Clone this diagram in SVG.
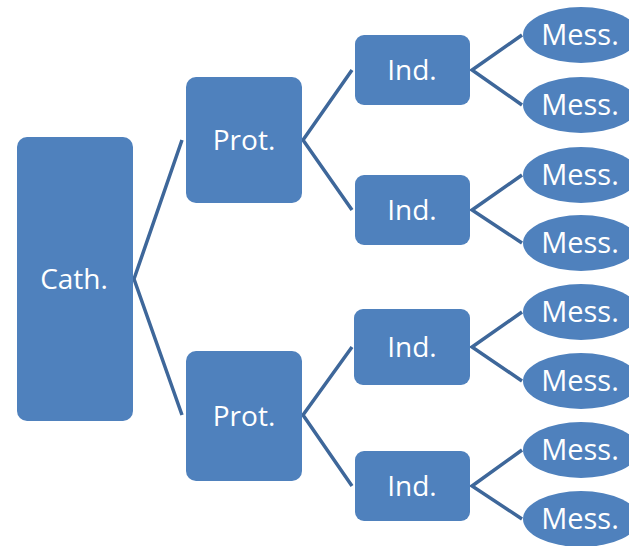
<svg xmlns="http://www.w3.org/2000/svg" width="629" height="546" viewBox="0 0 629 546">
<style>
.n{fill:#4F81BD;}
.t{fill:#FFFFFF;font-family:"Open Sans","Liberation Sans",sans-serif;font-size:28px;text-anchor:middle;}
.m{font-size:29px;}
.c{stroke:#3E679A;stroke-width:3.5;fill:none;stroke-linejoin:miter;}
</style>
<rect width="629" height="546" fill="#FFFFFF"/>
<g id="connectors">
<polyline class="c" points="182,140 134,279 182,415"/>
<polyline class="c" points="352,70 303,140 352,210"/>
<polyline class="c" points="352,347 303,415 352,486"/>
<polyline class="c" points="522,35 472,70 522,105"/>
<polyline class="c" points="522,175 472,210 522,243"/>
<polyline class="c" points="522,312 472,347 522,381"/>
<polyline class="c" points="522,450 472,486 522,519"/>
</g>
<g id="cath"><rect class="n" x="17" y="137" width="116" height="284" rx="10"/><text class="t" x="74" y="289">Cath.</text></g>
<g id="prot1"><rect class="n" x="186" y="77" width="116" height="126" rx="10"/><text class="t" x="244" y="150">Prot.</text></g>
<g id="prot2"><rect class="n" x="186" y="351" width="116" height="130" rx="10"/><text class="t" x="244" y="426">Prot.</text></g>
<g id="ind1"><rect class="n" x="355" y="35" width="115" height="70" rx="9"/><text class="t" x="412" y="80">Ind.</text></g>
<g id="ind2"><rect class="n" x="355" y="175" width="115" height="70" rx="9"/><text class="t" x="412" y="220">Ind.</text></g>
<g id="ind3"><rect class="n" x="354" y="309" width="116" height="76" rx="9"/><text class="t" x="412" y="357">Ind.</text></g>
<g id="ind4"><rect class="n" x="355" y="451" width="115" height="70" rx="9"/><text class="t" x="412" y="496">Ind.</text></g>
<g id="mess1"><ellipse class="n" cx="581" cy="35" rx="58" ry="28"/><text class="t m" x="580" y="45">Mess.</text></g>
<g id="mess2"><ellipse class="n" cx="581" cy="105" rx="58" ry="28"/><text class="t m" x="580" y="115">Mess.</text></g>
<g id="mess3"><ellipse class="n" cx="581" cy="175" rx="58" ry="28"/><text class="t m" x="580" y="185">Mess.</text></g>
<g id="mess4"><ellipse class="n" cx="581" cy="243" rx="58" ry="28"/><text class="t m" x="580" y="253">Mess.</text></g>
<g id="mess5"><ellipse class="n" cx="581" cy="312" rx="58" ry="28"/><text class="t m" x="580" y="322">Mess.</text></g>
<g id="mess6"><ellipse class="n" cx="581" cy="381" rx="58" ry="28"/><text class="t m" x="580" y="391">Mess.</text></g>
<g id="mess7"><ellipse class="n" cx="581" cy="450" rx="58" ry="28"/><text class="t m" x="580" y="460">Mess.</text></g>
<g id="mess8"><ellipse class="n" cx="581" cy="519" rx="58" ry="28"/><text class="t m" x="580" y="529">Mess.</text></g>
</svg>
